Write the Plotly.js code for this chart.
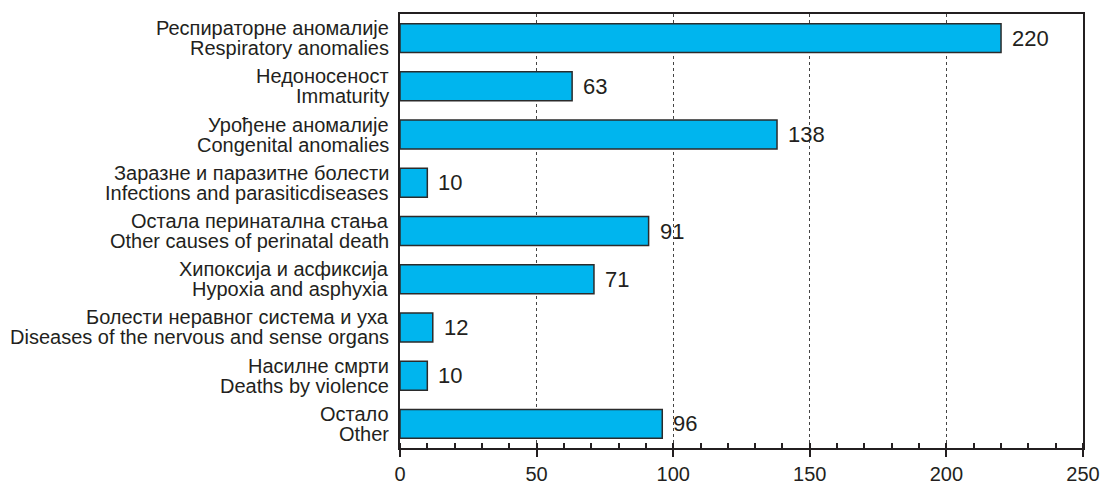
<!DOCTYPE html>
<html>
<head>
<meta charset="utf-8">
<script src="https://cdn.plot.ly/plotly-3.0.1.min.js"></script>
<style>
  body { margin: 0; background: #fff; }
  #chart { width: 1104px; height: 485px; }
</style>
</head>
<body>
<div id="chart"></div>
<script>
let labelsSr = ['Респираторне аномалије', 'Недоносеност', 'Урођене аномалије',
  'Заразне и паразитне болести', 'Остала перинатална стања', 'Хипоксија и асфиксија',
  'Болести неравног система и уха', 'Насилне смрти', 'Остало']
let labelsEn = ['Respiratory anomalies', 'Immaturity', 'Congenital anomalies',
  'Infections and parasiticdiseases', 'Other causes of perinatal death', 'Hypoxia and asphyxia',
  'Diseases of the nervous and sense organs', 'Deaths by violence', 'Other']
let deaths = [220, 63, 138, 10, 91, 71, 12, 10, 96]

// category keys; two-line labels are drawn as annotations for tighter line spacing
let cats = labelsEn

let trace = {
  x: deaths,
  y: cats,
  type: 'bar',
  orientation: 'h',
  width: 0.6,
  marker: { color: '#00b5ee', line: { color: '#2b2b2b', width: 1.5 } },
  hoverinfo: 'x'
}

let txt = { size: 20, color: '#231f20' }

let notes = deaths.map((v, i) => ({
  x: v, y: cats[i], text: String(v),
  xanchor: 'left', xshift: 9, showarrow: false,
  font: { size: 22, color: '#231f20' }
}))

labelsSr.forEach((s, i) => {
  notes.push({ xref: 'paper', x: 0, y: cats[i], text: s, xanchor: 'right', xshift: -9,
    yshift: 10, showarrow: false, font: txt })
  notes.push({ xref: 'paper', x: 0, y: cats[i], text: labelsEn[i], xanchor: 'right', xshift: -9,
    yshift: -10, showarrow: false, font: txt })
})

let layout = {
  width: 1104,
  height: 485,
  margin: { l: 400, r: 21, t: 14, b: 37 },
  font: { family: 'Liberation Sans, Arial, sans-serif', color: '#231f20' },
  showlegend: false,
  plot_bgcolor: '#fff',
  paper_bgcolor: '#fff',
  xaxis: {
    range: [0, 250],
    dtick: 50,
    showline: true, linecolor: '#231f20', linewidth: 1.5,
    mirror: true,
    ticks: 'outside', ticklen: 7, tickcolor: '#231f20', tickwidth: 1.5,
    showgrid: true, gridcolor: '#444', griddash: 'dot', gridwidth: 1,
    zeroline: false,
    minor: { dtick: 10, ticks: 'inside', ticklen: 5, tickcolor: '#231f20', tickwidth: 1.5, showgrid: false },
    tickfont: { size: 20 }
  },
  yaxis: {
    autorange: 'reversed',
    showline: true, linecolor: '#231f20', linewidth: 1.5,
    mirror: true,
    ticks: '',
    showticklabels: false
  },
  annotations: notes
}

Plotly.newPlot('chart', [trace], layout, { displayModeBar: false })
</script>
</body>
</html>
